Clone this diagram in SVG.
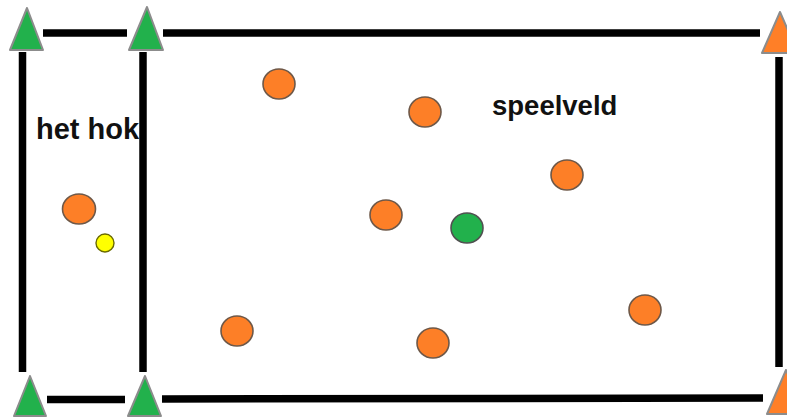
<svg xmlns="http://www.w3.org/2000/svg" width="787" height="418" viewBox="0 0 787 418">
<style>
.line{stroke:#000;stroke-width:7.5;fill:none}
.tg{fill:#22b14c;stroke:#8c8c8c;stroke-width:2;stroke-linejoin:round}
.to{fill:#ff7f27;stroke:#8c8c8c;stroke-width:2;stroke-linejoin:round}
.po{fill:#fd7f27;stroke:#6e5848;stroke-width:1.6}
.pg{fill:#22b14c;stroke:#505050;stroke-width:1.6}
.py{fill:#ffff00;stroke:#6a6a00;stroke-width:1.4}
.lbl{font-family:"Liberation Sans",Arial,sans-serif;font-weight:bold;font-size:27.5px;fill:#111}
</style>
<rect width="787" height="418" fill="#fff"/>
<g id="label-hok"><text class="lbl" x="36" y="139" style="font-size:29px">het hok</text></g>
<g id="label-veld"><text class="lbl" x="492" y="115">speelveld</text></g>
<g id="connectors">
<line class="line" x1="43" y1="33" x2="127" y2="33"/>
<line class="line" x1="163" y1="33" x2="760" y2="33"/>
<line class="line" x1="47" y1="399.5" x2="125" y2="399.5"/>
<line class="line" x1="162" y1="399" x2="763" y2="398"/>
<line class="line" x1="22.5" y1="52" x2="22.5" y2="372"/>
<line class="line" x1="143" y1="52" x2="143" y2="372"/>
<line class="line" x1="779" y1="57" x2="779" y2="367"/>
</g>
<g id="cone-tl"><polygon class="tg" points="27,8 10,50 43,50"/></g>
<g id="cone-tm"><polygon class="tg" points="147,7 129,50 163,50"/></g>
<g id="cone-tr"><polygon class="to" points="780,12 762,53 798,53"/></g>
<g id="cone-bl"><polygon class="tg" points="30,376 14,416 46,416"/></g>
<g id="cone-bm"><polygon class="tg" points="145,376 128,416 161,416"/></g>
<g id="cone-br"><polygon class="to" points="786,370 767,414 805,414"/></g>
<g id="p1"><ellipse class="po" cx="279" cy="84" rx="16" ry="15"/></g>
<g id="p2"><ellipse class="po" cx="425" cy="112" rx="16" ry="15"/></g>
<g id="p3"><ellipse class="po" cx="567" cy="175" rx="16" ry="15"/></g>
<g id="p4"><ellipse class="po" cx="386" cy="215" rx="16" ry="15"/></g>
<g id="p5"><ellipse class="pg" cx="467" cy="228" rx="16" ry="15"/></g>
<g id="p6"><ellipse class="po" cx="237" cy="331" rx="16" ry="15"/></g>
<g id="p7"><ellipse class="po" cx="433" cy="343" rx="16" ry="15"/></g>
<g id="p8"><ellipse class="po" cx="645" cy="310" rx="16" ry="15"/></g>
<g id="p9"><ellipse class="po" cx="79" cy="209" rx="16.5" ry="15"/></g>
<g id="ball"><circle class="py" cx="105" cy="243" r="9"/></g>
</svg>
